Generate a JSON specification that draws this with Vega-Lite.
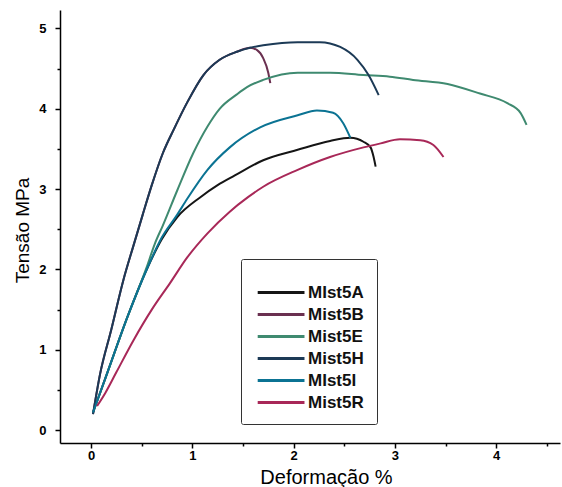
{
  "$schema": "https://vega.github.io/schema/vega-lite/v6.json",
  "width": 500,
  "height": 433,
  "autosize": {"type": "none"},
  "padding": {"left": 60, "top": 10, "right": 2, "bottom": 44},
  "background": "white",
  "config": {"view": {"stroke": null}, "font": "Liberation Sans"},
  "data": {
    "values": [
      {"s": "MIst5A", "i": 0, "x": 0.02, "y": 0.22},
      {"s": "MIst5A", "i": 1, "x": 0.16, "y": 0.71},
      {"s": "MIst5A", "i": 2, "x": 0.36, "y": 1.41},
      {"s": "MIst5A", "i": 3, "x": 0.55, "y": 2.0},
      {"s": "MIst5A", "i": 4, "x": 0.7, "y": 2.38},
      {"s": "MIst5A", "i": 5, "x": 0.85, "y": 2.65},
      {"s": "MIst5A", "i": 6, "x": 1.08, "y": 2.9},
      {"s": "MIst5A", "i": 7, "x": 1.25, "y": 3.05},
      {"s": "MIst5A", "i": 8, "x": 1.42, "y": 3.17},
      {"s": "MIst5A", "i": 9, "x": 1.7, "y": 3.36},
      {"s": "MIst5A", "i": 10, "x": 2.04, "y": 3.49},
      {"s": "MIst5A", "i": 11, "x": 2.36, "y": 3.6},
      {"s": "MIst5A", "i": 12, "x": 2.56, "y": 3.64},
      {"s": "MIst5A", "i": 13, "x": 2.69, "y": 3.59},
      {"s": "MIst5A", "i": 14, "x": 2.76, "y": 3.52},
      {"s": "MIst5A", "i": 15, "x": 2.79, "y": 3.4},
      {"s": "MIst5A", "i": 16, "x": 2.81, "y": 3.28},

      {"s": "Mist5B", "i": 0, "x": 0.02, "y": 0.2},
      {"s": "Mist5B", "i": 1, "x": 0.09, "y": 0.7},
      {"s": "Mist5B", "i": 2, "x": 0.2, "y": 1.25},
      {"s": "Mist5B", "i": 3, "x": 0.32, "y": 1.87},
      {"s": "Mist5B", "i": 4, "x": 0.42, "y": 2.3},
      {"s": "Mist5B", "i": 5, "x": 0.51, "y": 2.68},
      {"s": "Mist5B", "i": 6, "x": 0.6, "y": 3.05},
      {"s": "Mist5B", "i": 7, "x": 0.71, "y": 3.45},
      {"s": "Mist5B", "i": 8, "x": 0.82, "y": 3.75},
      {"s": "Mist5B", "i": 9, "x": 0.95, "y": 4.08},
      {"s": "Mist5B", "i": 10, "x": 1.11, "y": 4.42},
      {"s": "Mist5B", "i": 11, "x": 1.27, "y": 4.61},
      {"s": "Mist5B", "i": 12, "x": 1.44, "y": 4.71},
      {"s": "Mist5B", "i": 13, "x": 1.57, "y": 4.76},
      {"s": "Mist5B", "i": 14, "x": 1.64, "y": 4.73},
      {"s": "Mist5B", "i": 15, "x": 1.7, "y": 4.63},
      {"s": "Mist5B", "i": 16, "x": 1.75, "y": 4.45},
      {"s": "Mist5B", "i": 17, "x": 1.77, "y": 4.32},

      {"s": "Mist5E", "i": 0, "x": 0.02, "y": 0.22},
      {"s": "Mist5E", "i": 1, "x": 0.16, "y": 0.71},
      {"s": "Mist5E", "i": 2, "x": 0.36, "y": 1.41},
      {"s": "Mist5E", "i": 3, "x": 0.55, "y": 2.03},
      {"s": "Mist5E", "i": 4, "x": 0.63, "y": 2.32},
      {"s": "Mist5E", "i": 5, "x": 0.71, "y": 2.55},
      {"s": "Mist5E", "i": 6, "x": 0.85, "y": 2.98},
      {"s": "Mist5E", "i": 7, "x": 1.01, "y": 3.45},
      {"s": "Mist5E", "i": 8, "x": 1.15, "y": 3.78},
      {"s": "Mist5E", "i": 9, "x": 1.27, "y": 4.0},
      {"s": "Mist5E", "i": 10, "x": 1.44, "y": 4.18},
      {"s": "Mist5E", "i": 11, "x": 1.54, "y": 4.27},
      {"s": "Mist5E", "i": 12, "x": 1.7, "y": 4.36},
      {"s": "Mist5E", "i": 13, "x": 2.04, "y": 4.45},
      {"s": "Mist5E", "i": 14, "x": 2.36, "y": 4.45},
      {"s": "Mist5E", "i": 15, "x": 2.69, "y": 4.42},
      {"s": "Mist5E", "i": 16, "x": 2.95, "y": 4.4},
      {"s": "Mist5E", "i": 17, "x": 3.18, "y": 4.36},
      {"s": "Mist5E", "i": 18, "x": 3.52, "y": 4.31},
      {"s": "Mist5E", "i": 19, "x": 3.84, "y": 4.19},
      {"s": "Mist5E", "i": 20, "x": 4.11, "y": 4.07},
      {"s": "Mist5E", "i": 21, "x": 4.24, "y": 3.95},
      {"s": "Mist5E", "i": 22, "x": 4.3, "y": 3.8},

      {"s": "Mist5H", "i": 0, "x": 0.02, "y": 0.2},
      {"s": "Mist5H", "i": 1, "x": 0.09, "y": 0.7},
      {"s": "Mist5H", "i": 2, "x": 0.2, "y": 1.25},
      {"s": "Mist5H", "i": 3, "x": 0.32, "y": 1.87},
      {"s": "Mist5H", "i": 4, "x": 0.42, "y": 2.3},
      {"s": "Mist5H", "i": 5, "x": 0.51, "y": 2.68},
      {"s": "Mist5H", "i": 6, "x": 0.6, "y": 3.05},
      {"s": "Mist5H", "i": 7, "x": 0.71, "y": 3.45},
      {"s": "Mist5H", "i": 8, "x": 0.82, "y": 3.75},
      {"s": "Mist5H", "i": 9, "x": 0.95, "y": 4.08},
      {"s": "Mist5H", "i": 10, "x": 1.11, "y": 4.42},
      {"s": "Mist5H", "i": 11, "x": 1.27, "y": 4.61},
      {"s": "Mist5H", "i": 12, "x": 1.44, "y": 4.71},
      {"s": "Mist5H", "i": 13, "x": 1.57, "y": 4.76},
      {"s": "Mist5H", "i": 14, "x": 1.7, "y": 4.79},
      {"s": "Mist5H", "i": 15, "x": 2.04, "y": 4.83},
      {"s": "Mist5H", "i": 16, "x": 2.26, "y": 4.83},
      {"s": "Mist5H", "i": 17, "x": 2.46, "y": 4.77},
      {"s": "Mist5H", "i": 18, "x": 2.63, "y": 4.61},
      {"s": "Mist5H", "i": 19, "x": 2.74, "y": 4.42},
      {"s": "Mist5H", "i": 20, "x": 2.84, "y": 4.17},

      {"s": "MIst5I", "i": 0, "x": 0.02, "y": 0.22},
      {"s": "MIst5I", "i": 1, "x": 0.16, "y": 0.71},
      {"s": "MIst5I", "i": 2, "x": 0.36, "y": 1.41},
      {"s": "MIst5I", "i": 3, "x": 0.55, "y": 2.0},
      {"s": "MIst5I", "i": 4, "x": 0.7, "y": 2.4},
      {"s": "MIst5I", "i": 5, "x": 0.85, "y": 2.68},
      {"s": "MIst5I", "i": 6, "x": 0.95, "y": 2.88},
      {"s": "MIst5I", "i": 7, "x": 1.15, "y": 3.24},
      {"s": "MIst5I", "i": 8, "x": 1.37, "y": 3.52},
      {"s": "MIst5I", "i": 9, "x": 1.67, "y": 3.77},
      {"s": "MIst5I", "i": 10, "x": 2.04, "y": 3.92},
      {"s": "MIst5I", "i": 11, "x": 2.23, "y": 3.98},
      {"s": "MIst5I", "i": 12, "x": 2.39, "y": 3.95},
      {"s": "MIst5I", "i": 13, "x": 2.49, "y": 3.82},
      {"s": "MIst5I", "i": 14, "x": 2.56, "y": 3.64},

      {"s": "Mist5R", "i": 0, "x": 0.06, "y": 0.3},
      {"s": "Mist5R", "i": 1, "x": 0.14, "y": 0.46},
      {"s": "Mist5R", "i": 2, "x": 0.25, "y": 0.72},
      {"s": "Mist5R", "i": 3, "x": 0.42, "y": 1.12},
      {"s": "Mist5R", "i": 4, "x": 0.6, "y": 1.5},
      {"s": "Mist5R", "i": 5, "x": 0.78, "y": 1.83},
      {"s": "Mist5R", "i": 6, "x": 0.95, "y": 2.15},
      {"s": "Mist5R", "i": 7, "x": 1.15, "y": 2.45},
      {"s": "Mist5R", "i": 8, "x": 1.37, "y": 2.72},
      {"s": "Mist5R", "i": 9, "x": 1.55, "y": 2.9},
      {"s": "Mist5R", "i": 10, "x": 1.7, "y": 3.03},
      {"s": "Mist5R", "i": 11, "x": 2.04, "y": 3.24},
      {"s": "Mist5R", "i": 12, "x": 2.36, "y": 3.4},
      {"s": "Mist5R", "i": 13, "x": 2.69, "y": 3.52},
      {"s": "Mist5R", "i": 14, "x": 2.86, "y": 3.57},
      {"s": "Mist5R", "i": 15, "x": 3.05, "y": 3.62},
      {"s": "Mist5R", "i": 16, "x": 3.25, "y": 3.61},
      {"s": "Mist5R", "i": 17, "x": 3.38, "y": 3.55},
      {"s": "Mist5R", "i": 18, "x": 3.48, "y": 3.4}
    ]
  },
  "mark": {"type": "line", "strokeWidth": 2, "interpolate": "monotone", "clip": true},
  "encoding": {
    "x": {
      "field": "x", "type": "quantitative",
      "scale": {"domain": [-0.306, 4.63], "nice": false, "zero": false},
      "axis": {
        "title": "Deformação %",
        "values": [0, 0.5, 1, 1.5, 2, 2.5, 3, 3.5, 4, 4.5],
        "labelExpr": "datum.value % 1 === 0 ? format(datum.value, 'd') : ''",
        "grid": false,
        "domainColor": "#000", "domainWidth": 1.5,
        "tickColor": "#000", "tickWidth": 1.5,
        "tickSize": {"condition": {"test": "datum.value % 1 !== 0", "value": 3}, "value": 5},
        "labelFont": "Liberation Sans", "labelFontSize": 13, "labelFontWeight": "bold", "labelColor": "#000",
        "labelPadding": 1,
        "titleFont": "Liberation Sans", "titleFontSize": 20, "titleFontWeight": "normal", "titleColor": "#000",
        "titleX": 266, "titleY": 40, "titleBaseline": "alphabetic"
      }
    },
    "y": {
      "field": "y", "type": "quantitative",
      "scale": {"domain": [-0.16, 5.23], "nice": false, "zero": false},
      "axis": {
        "title": "Tensão MPa",
        "values": [0, 0.5, 1, 1.5, 2, 2.5, 3, 3.5, 4, 4.5, 5],
        "labelExpr": "datum.value % 1 === 0 ? format(datum.value, 'd') : ''",
        "grid": false,
        "domainColor": "#000", "domainWidth": 1.5,
        "tickColor": "#000", "tickWidth": 1.5,
        "tickSize": {"condition": {"test": "datum.value % 1 !== 0", "value": 3}, "value": 5},
        "labelFont": "Liberation Sans", "labelFontSize": 13, "labelFontWeight": "bold", "labelColor": "#000",
        "labelPadding": 9,
        "titleFont": "Liberation Sans", "titleFontSize": 19, "titleFontWeight": "normal", "titleColor": "#000",
        "titleX": -38, "titleY": 220, "titleBaseline": "middle", "titleAngle": -90
      }
    },
    "color": {
      "field": "s", "type": "nominal",
      "scale": {
        "domain": ["MIst5A", "Mist5B", "Mist5E", "Mist5H", "MIst5I", "Mist5R"],
        "range": ["#151515", "#6a3050", "#3f8a70", "#1c3a56", "#0b7393", "#a82858"]
      },
      "legend": {
        "title": " ",
        "titleFontSize": 6,
        "titlePadding": 3,
        "orient": "none",
        "legendX": 181,
        "legendY": 249,
        "symbolType": "M-0.8,0H4",
        "symbolStrokeWidth": 3,
        "symbolSize": 380,
        "rowPadding": 2,
        "labelFont": "Liberation Sans", "labelFontSize": 17, "labelFontWeight": "bold", "labelColor": "#111",
        "labelOffset": 31,
        "padding": 13,
        "strokeColor": "#333",
        "fillColor": "white",
        "cornerRadius": 2
      }
    },
    "detail": {"field": "s"},
    "order": {"field": "i", "type": "quantitative"}
  }
}
